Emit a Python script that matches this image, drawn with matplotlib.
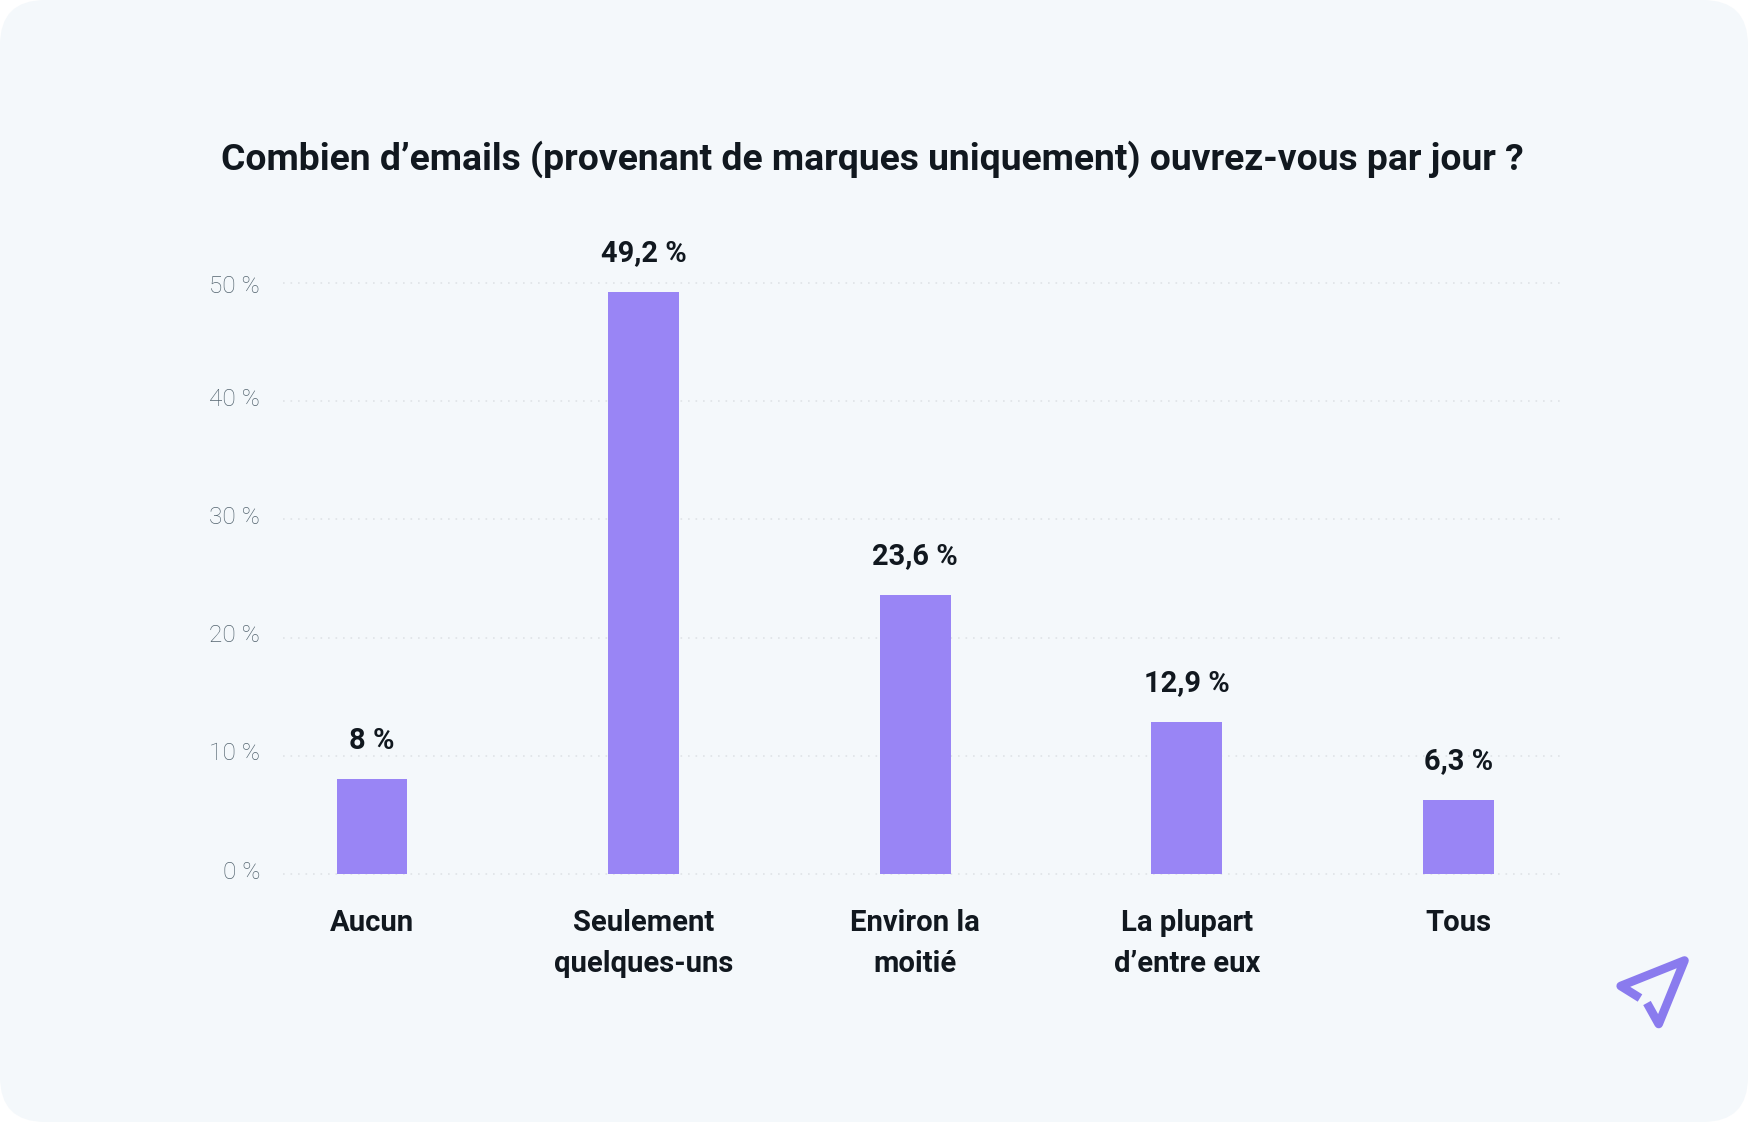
import matplotlib
matplotlib.use("Agg")
import matplotlib.pyplot as plt
from matplotlib.patches import FancyBboxPatch
from matplotlib.lines import Line2D
from matplotlib.transforms import ScaledTranslation

plt.rcParams['font.family'] = ['Roboto', 'DejaVu Sans']

W, H = 1748, 1122

categories = ["Aucun", "Seulement\nquelques-uns", "Environ la\nmoitié", "La plupart\nd’entre eux", "Tous"]
values = [8, 49.2, 23.6, 12.9, 6.3]
value_labels = ["8 %", "49,2 %", "23,6 %", "12,9 %", "6,3 %"]
yticks = [0, 10, 20, 30, 40, 50]
ytick_labels = ["0 %", "10 %", "20 %", "30 %", "40 %", "50 %"]
title = "Combien d’emails (provenant de marques uniquement) ouvrez-vous par jour ?"

fig = plt.figure(figsize=(W / 100, H / 100), dpi=100, facecolor="white")

# background card, in pixel coords
bg = fig.add_axes([0, 0, 1, 1])
bg.set_xlim(0, W)
bg.set_ylim(H, 0)
bg.axis("off")
bg.add_patch(FancyBboxPatch((45, 45), W - 90, H - 90, boxstyle="round,pad=45,rounding_size=45",
                            fc="#f4f8fb", ec="none"))

# plot area
left, right = 283, 1560
top, bottom = 283, 874
ax = fig.add_axes([left / W, 1 - bottom / H, (right - left) / W, (bottom - top) / H])
ax.patch.set_alpha(0)
ax.set_xlim((left - 372) / 271.6, (right - 372) / 271.6)
ax.set_ylim(0, 50)
ax.bar(range(5), values, width=0.26, color="#9985f5", zorder=3, clip_on=False)
for i, v in enumerate(values):
    ax.annotate(value_labels[i], (i, v), xytext=(0, 28), textcoords="offset points",
                ha="center", va="center", fontsize=20.9, fontweight="bold", color="#11181f")

ax.set_yticks(yticks)
ax.set_yticklabels(ytick_labels, fontsize=17.6, fontweight="light", color="#53646f")
ax.tick_params(axis="y", length=0, pad=16.4)
# labels sit a little above their gridlines, the top one a little below
for lab, tick in zip(ax.get_yticklabels(), yticks):
    dy = -0.8 if tick == 50 else 3.2
    lab.set_transform(lab.get_transform() + ScaledTranslation(0, dy / 72, fig.dpi_scale_trans))
ax.set_xticks(range(5))
ax.set_xticklabels(categories, fontsize=21.1, fontweight="bold", color="#11181f", linespacing=1.58)
ax.tick_params(axis="x", length=0, pad=25.2)
ax.grid(axis="y", color="#dfe3e7", linewidth=1.2, linestyle=(0, (1, 3.5)), zorder=1)
ax.grid(axis="x", visible=False)
ax.spines[:].set_visible(False)
for gl in ax.get_ygridlines():
    gl.set_clip_on(False)

bg.text(872, 159, title, ha="center", va="center", fontsize=26.8, fontweight="bold", color="#11181f")

# paper plane logo
plane_color = "#8a7bee"
bg.add_line(Line2D([1640, 1620.7, 1684.5, 1658.7, 1647], [998, 986, 960.5, 1024, 1003],
                   color=plane_color, linewidth=6.2, solid_joinstyle="round", solid_capstyle="butt"))

fig.savefig("out.png", dpi=100, facecolor="white")
